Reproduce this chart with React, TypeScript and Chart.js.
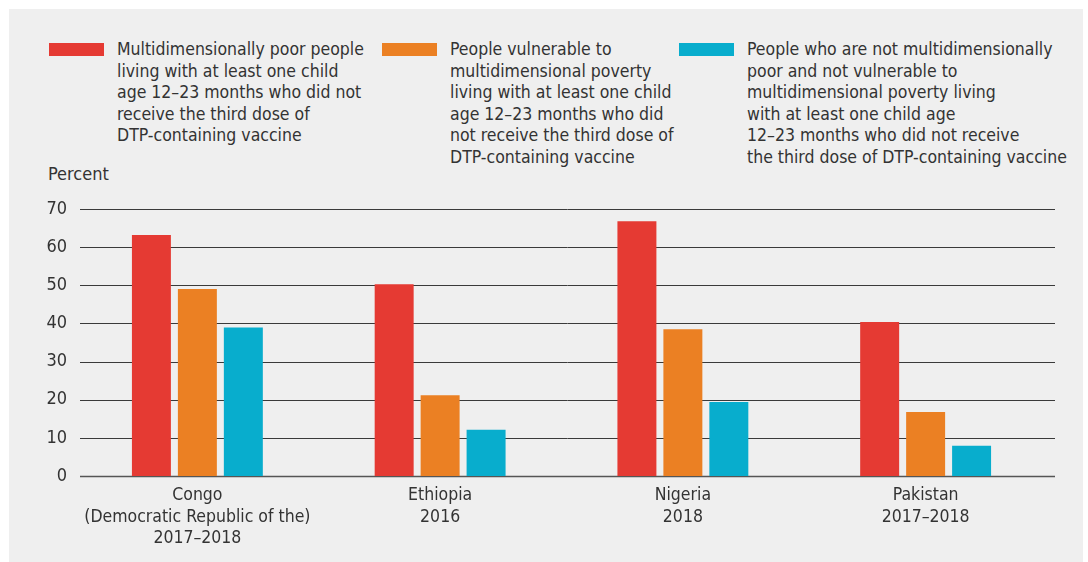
import React, { useEffect, useRef } from "react";
import { Chart, registerables } from "chart.js";

Chart.register(...registerables);

const categories: string[][] = [
  ["Congo", "(Democratic Republic of the)", "2017–2018"],
  ["Ethiopia", "2016"],
  ["Nigeria", "2018"],
  ["Pakistan", "2017–2018"],
];

const poorValues = [63.2, 50.3, 66.8, 40.4];
const vulnerableValues = [49.0, 21.2, 38.5, 16.8];
const notPoorValues = [38.9, 12.1, 19.4, 7.9];

const seriesLabels: string[][] = [
  [
    "Multidimensionally poor people",
    "living with at least one child",
    "age 12–23 months who did not",
    "receive the third dose of",
    "DTP-containing vaccine",
  ],
  [
    "People vulnerable to",
    "multidimensional poverty",
    "living with at least one child",
    "age 12–23 months who did",
    "not receive the third dose of",
    "DTP-containing vaccine",
  ],
  [
    "People who are not multidimensionally",
    "poor and not vulnerable to",
    "multidimensional poverty living",
    "with at least one child age",
    "12–23 months who did not receive",
    "the third dose of DTP-containing vaccine",
  ],
];

const seriesColors = ["#e53a33", "#eb8023", "#08adcd"];
const yTicks = [0, 10, 20, 30, 40, 50, 60, 70];

const FONT = "'Liberation Sans Narrow', 'DejaVu Sans Condensed', Roboto, sans-serif";
const TEXT = "#333333";

const legendX = [40, 373, 670];

// horizontal gridlines spanning the full rule width (wider than the category band)
const gridPlugin = {
  id: "wideGrid",
  beforeDatasetsDraw(chart: any) {
    const ctx = chart.ctx;
    const y = chart.scales.y;
    ctx.save();
    yTicks.forEach((v) => {
      const py = Math.round(y.getPixelForValue(v)) + 0.5;
      ctx.strokeStyle = v === 0 ? "#555555" : "#3a3a3a";
      ctx.lineWidth = v === 0 ? 1.5 : 1;
      ctx.beginPath();
      ctx.moveTo(71, py);
      ctx.lineTo(1046, py);
      ctx.stroke();
    });
    ctx.restore();
  },
};

export default function App() {
  const canvasRef = useRef<HTMLCanvasElement | null>(null);

  useEffect(() => {
    if (!canvasRef.current) return;
    const chart = new Chart(canvasRef.current, {
      type: "bar",
      data: {
        labels: categories,
        datasets: [poorValues, vulnerableValues, notPoorValues].map((d, i) => ({
          label: seriesLabels[i].join(" "),
          data: d,
          backgroundColor: seriesColors[i],
          borderWidth: 0,
          categoryPercentage: 0.568,
          barPercentage: 0.848,
        })),
      },
      options: {
        responsive: false,
        animation: false,
        maintainAspectRatio: false,
        layout: { padding: { top: 200, right: 36, bottom: 0, left: 0 } },
        plugins: { legend: { display: false }, tooltip: { enabled: false } },
        scales: {
          x: {
            grid: { display: false, drawTicks: false },
            border: { display: false },
            ticks: {
              color: TEXT,
              font: { family: FONT, size: 17.5, lineHeight: 1.23 },
              padding: 9,
              maxRotation: 0,
              autoSkip: false,
            },
            afterFit: (scale: any) => {
              scale.height = 86;
            },
          },
          y: {
            min: 0,
            max: 70,
            afterBuildTicks: (scale: any) => {
              scale.ticks = yTicks.map((v) => ({ value: v }));
            },
            grid: { display: false, drawTicks: false },
            border: { display: false },
            ticks: {
              color: TEXT,
              font: { family: FONT, size: 18 },
              padding: 9,
            },
            afterFit: (scale: any) => {
              scale.width = 67;
            },
          },
        },
      },
      plugins: [gridPlugin],
    });
    return () => chart.destroy();
  }, []);

  return (
    <div
      style={{
        position: "absolute",
        left: 9,
        top: 9,
        width: 1074,
        height: 553,
        background: "#efefef",
        fontFamily: FONT,
        color: TEXT,
      }}
    >
      {seriesLabels.map((lines, i) => (
        <div key={i} style={{ position: "absolute", left: legendX[i], top: 30 }}>
          <div
            style={{
              position: "absolute",
              left: 0,
              top: 4,
              width: 55,
              height: 13,
              background: seriesColors[i],
            }}
          />
          <div
            style={{
              position: "absolute",
              left: 68,
              top: 0,
              fontSize: 17.5,
              lineHeight: "21.5px",
              whiteSpace: "nowrap",
            }}
          >
            {lines.map((l, j) => (
              <div key={j}>{l}</div>
            ))}
          </div>
        </div>
      ))}
      <div
        style={{
          position: "absolute",
          left: 39,
          top: 154,
          fontSize: 18,
          lineHeight: "22px",
        }}
      >
        Percent
      </div>
      <canvas
        ref={canvasRef}
        width={1074}
        height={553}
        style={{ position: "absolute", left: 0, top: 0 }}
      />
    </div>
  );
}
